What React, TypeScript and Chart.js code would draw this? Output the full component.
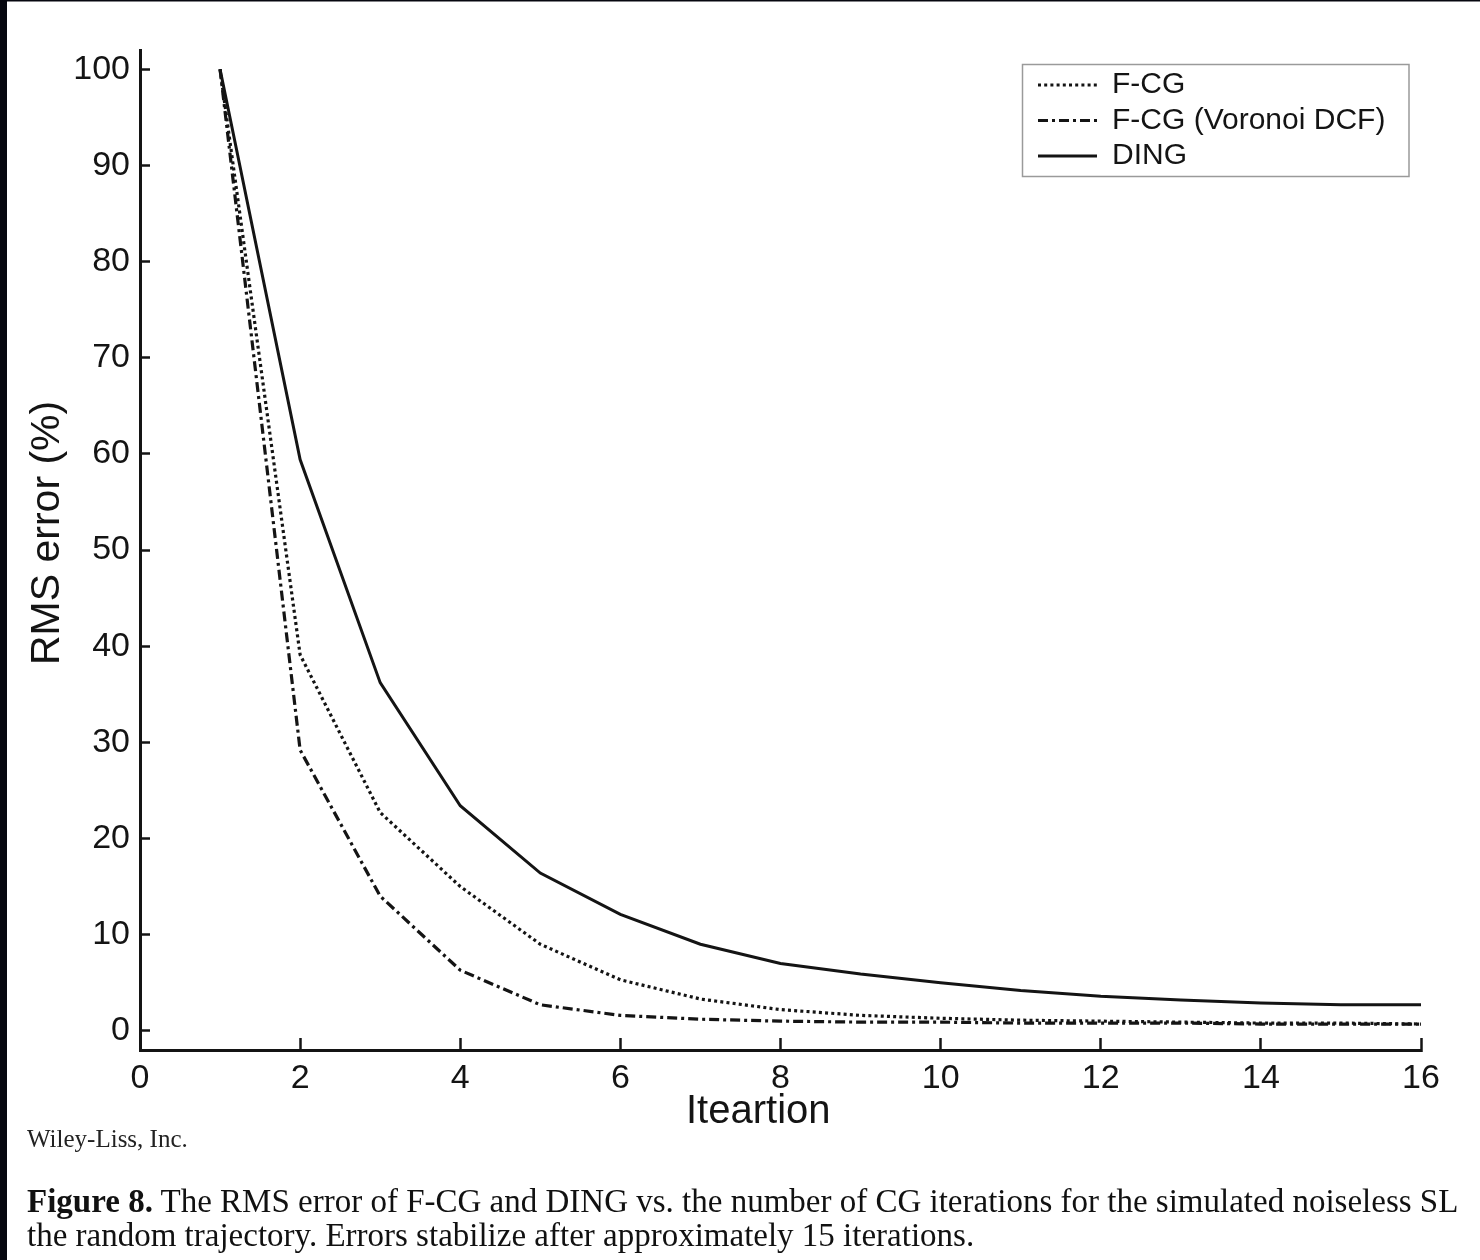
import React, { useEffect, useRef } from "react";
import { Chart, registerables } from "chart.js";

Chart.register(...registerables);

// ---- data ----
const iterations = [1, 2, 3, 4, 5, 6, 7, 8, 9, 10, 11, 12, 13, 14, 15, 16];
const fcgValues = [100, 39.1, 22.7, 15.0, 9.0, 5.3, 3.3, 2.2, 1.6, 1.3, 1.1, 1.0, 0.9, 0.8, 0.8, 0.7];
const voronoiValues = [100, 29.2, 14.0, 6.3, 2.7, 1.6, 1.2, 1.0, 0.9, 0.9, 0.8, 0.8, 0.8, 0.7, 0.7, 0.7];
const dingValues = [100, 59.4, 36.2, 23.4, 16.4, 12.1, 9.0, 7.0, 5.9, 5.0, 4.2, 3.6, 3.2, 2.9, 2.7, 2.7];
const seriesLabels = ["F-CG", "F-CG (Voronoi DCF)", "DING"];
const xTickValues = [0, 2, 4, 6, 8, 10, 12, 14, 16];
const yTickValues = [0, 10, 20, 30, 40, 50, 60, 70, 80, 90, 100];
const xTitle = "Iteartion";
const yTitle = "RMS error (%)";
const creditText = "Wiley-Liss, Inc.";
const captionBold = "Figure 8.";
const captionLine1 = " The RMS error of F-CG and DING vs. the number of CG iterations for the simulated noiseless SL";
const captionLine2 = "the random trajectory. Errors stabilize after approximately 15 iterations.";

const INK = "#141414";
const SANS = '"Liberation Sans", Arial, Helvetica, sans-serif';

const framePlugin = {
  id: "frame",
  beforeDraw(chart: any) {
    const { ctx, width, height } = chart;
    ctx.save();
    ctx.fillStyle = "#ffffff";
    ctx.fillRect(0, 0, width, height);
    ctx.fillStyle = "#06070f";
    ctx.fillRect(0, 0, 7, height);
    ctx.fillRect(0, 0, width, 1.5);
    ctx.restore();
  },
};

function placeLegend(chart: any) {
  const lg = chart.legend;
  if (!lg) return;
  lg.left = 1032.5;
  lg.top = 64.5;
  lg.right = 1409;
  lg.bottom = 177;
  lg.width = lg.right - lg.left;
  lg.height = lg.bottom - lg.top;
}

const legendPlacePlugin = {
  id: "legendPlace",
  afterLayout(chart: any) {
    placeLegend(chart);
  },
  beforeDraw(chart: any) {
    placeLegend(chart);
  },
  afterDraw(chart: any) {
    const ctx = chart.ctx;
    ctx.save();
    ctx.strokeStyle = "#9a9a9a";
    ctx.lineWidth = 1.5;
    ctx.strokeRect(1022.5, 64.5, 386.5, 112);
    ctx.restore();
  },
};

function toPoints(values: number[]) {
  return iterations.map((x, i) => ({ x, y: values[i] }));
}

export default function App() {
  const canvasRef = useRef<HTMLCanvasElement | null>(null);

  useEffect(() => {
    const canvas = canvasRef.current;
    if (!canvas) return;
    const chart = new Chart(canvas, {
      type: "line",
      data: {
        datasets: [
          {
            label: seriesLabels[0],
            data: toPoints(fcgValues),
            borderColor: INK,
            backgroundColor: INK,
            borderWidth: 3.2,
            borderDash: [3, 3.2],
            pointRadius: 0,
            tension: 0,
            fill: false,
          },
          {
            label: seriesLabels[1],
            data: toPoints(voronoiValues),
            borderColor: INK,
            backgroundColor: INK,
            borderWidth: 3.2,
            borderDash: [10, 4, 3, 4],
            pointRadius: 0,
            tension: 0,
            fill: false,
          },
          {
            label: seriesLabels[2],
            data: toPoints(dingValues),
            borderColor: INK,
            backgroundColor: INK,
            borderWidth: 3,
            pointRadius: 0,
            tension: 0,
            fill: false,
          },
        ],
      },
      options: {
        responsive: false,
        animation: false,
        events: [],
        layout: { padding: { left: 0, right: 59, top: 50, bottom: 0 } },
        plugins: {
          tooltip: { enabled: false },
          legend: {
            display: true,
            position: "chartArea" as any,
            align: "start",
            labels: {
              usePointStyle: true,
              pointStyle: "line",
              pointStyleWidth: 59,
              padding: 5.5,
              color: INK,
              font: { family: SANS, size: 30 },
              generateLabels: (c: any) => {
                const items = Chart.defaults.plugins.legend.labels.generateLabels(c);
                return items.map((it: any) => {
                  const ds = c.data.datasets[it.datasetIndex];
                  return {
                    ...it,
                    lineDash: ds.borderDash || [],
                    lineWidth: ds.borderWidth,
                    strokeStyle: ds.borderColor,
                  };
                });
              },
            },
          },
        },
        scales: {
          x: {
            type: "linear",
            min: 0,
            max: 16,
            afterBuildTicks: (s: any) => {
              s.ticks = xTickValues.map((v) => ({ value: v }));
            },
            afterFit: (s: any) => {
              s.height = 210;
            },
            grid: {
              drawOnChartArea: false,
              drawTicks: true,
              tickLength: -12,
              tickWidth: 2.5,
              tickColor: INK,
            },
            border: { display: true, width: 3, color: INK },
            ticks: {
              padding: 20,
              color: INK,
              autoSkip: false,
              maxRotation: 0,
              font: { family: SANS, size: 34 },
            },
            title: {
              display: true,
              text: xTitle + "    ",
              color: INK,
              font: { family: SANS, size: 40 },
              padding: { top: 0, bottom: 124 },
            },
          },
          y: {
            type: "linear",
            min: -2,
            max: 102,
            afterBuildTicks: (s: any) => {
              s.ticks = yTickValues.map((v) => ({ value: v }));
            },
            afterFit: (s: any) => {
              s.width = 140;
            },
            grid: {
              drawOnChartArea: false,
              drawTicks: true,
              tickLength: -10,
              tickWidth: 2.5,
              tickColor: INK,
            },
            border: { display: true, width: 3, color: INK },
            ticks: {
              padding: 20,
              color: INK,
              autoSkip: false,
              font: { family: SANS, size: 34 },
            },
            title: {
              display: true,
              text: "   " + yTitle,
              color: INK,
              font: { family: SANS, size: 41 },
              padding: { top: 23, bottom: 0 },
            },
          },
        },
      },
      plugins: [framePlugin, legendPlacePlugin],
    } as any);
    return () => chart.destroy();
  }, []);

  return (
    <div
      style={{
        position: "absolute",
        left: 0,
        top: 0,
        width: 1480,
        height: 1260,
        overflow: "hidden",
        background: "#fff",
      }}
    >
      <canvas ref={canvasRef} width={1480} height={1260} style={{ display: "block" }} />
      <div
        style={{
          position: "absolute",
          left: 27,
          top: 1126,
          font: '25px "Liberation Serif", "Times New Roman", serif',
          lineHeight: "25px",
          whiteSpace: "nowrap",
          color: "#222",
        }}
      >
        {creditText}
      </div>
      <div
        style={{
          position: "absolute",
          left: 27,
          top: 1184,
          font: '33px "Liberation Serif", "Times New Roman", serif',
          lineHeight: "34px",
          whiteSpace: "nowrap",
          color: "#111",
        }}
      >
        <b>{captionBold}</b>
        {captionLine1}
        <br />
        {captionLine2}
      </div>
    </div>
  );
}
